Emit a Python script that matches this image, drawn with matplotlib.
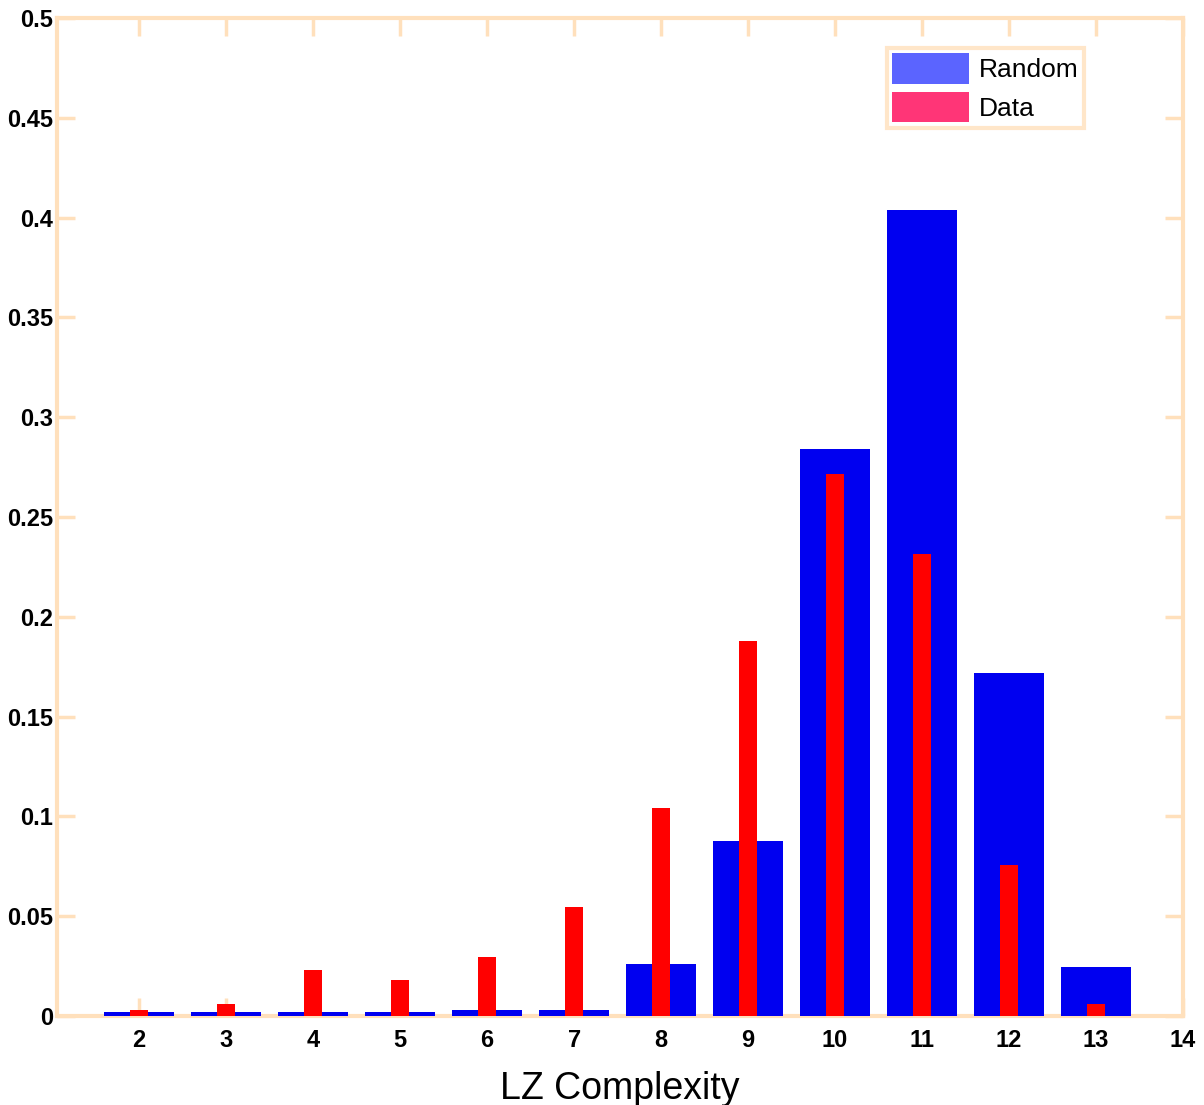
import matplotlib
matplotlib.use('Agg')
import matplotlib.pyplot as plt
from matplotlib.patches import Patch

# valeurs
lz = [2, 3, 4, 5, 6, 7, 8, 9, 10, 11, 12, 13]
random_vals = [0.002, 0.002, 0.002, 0.002, 0.003, 0.003, 0.026, 0.0875, 0.284, 0.404, 0.172, 0.0245]
data_vals = [0.003, 0.006, 0.023, 0.018, 0.0295, 0.0545, 0.104, 0.188, 0.2715, 0.2315, 0.0755, 0.0062]
yticks = [0, 0.05, 0.1, 0.15, 0.2, 0.25, 0.3, 0.35, 0.4, 0.45, 0.5]
ytick_labels = ['0', '0.05', '0.1', '0.15', '0.2', '0.25', '0.3', '0.35', '0.4', '0.45', '0.5']
xticks = [2, 3, 4, 5, 6, 7, 8, 9, 10, 11, 12, 13, 14]

plt.rcParams['font.family'] = ['Liberation Sans', 'DejaVu Sans']
frame_col = '#FFE0BC'

fig = plt.figure(figsize=(12.04, 11.05), dpi=100)
ax = fig.add_axes([0.0473, 0.0805, 0.9353, 0.9032])

ax.bar(lz, random_vals, width=0.8, color='#0000F0', zorder=2)
ax.bar(lz, data_vals, width=0.2, color='#FF0000', zorder=3)

ax.set_xlim(1.055, 14)
ax.set_ylim(0, 0.5)
ax.set_xticks(xticks)
ax.set_xticklabels([str(t) for t in xticks])
ax.set_yticks(yticks)
ax.set_yticklabels(ytick_labels)

for s in ax.spines.values():
    s.set_color(frame_col)
    s.set_linewidth(3)
    s.set_zorder(1)
ax.tick_params(direction='in', length=13, width=2.5, color=frame_col,
               top=True, right=True, labelsize=17)
ax.tick_params(axis='y', pad=3)
ax.tick_params(axis='x', pad=9)
for lab in ax.get_xticklabels() + ax.get_yticklabels():
    lab.set_fontweight('bold')

ax.set_xlabel('LZ Complexity', fontsize=27, labelpad=14)

handles = [Patch(facecolor='#5B64FF', edgecolor='none', label='Random'),
           Patch(facecolor='#FF3577', edgecolor='none', label='Data')]
leg = ax.legend(handles=handles, loc='upper right', bbox_to_anchor=(0.924, 0.983),
                fontsize=19, frameon=True, fancybox=False, handlelength=2.9,
                handleheight=1.4, labelspacing=0.3, borderpad=0.2, handletextpad=0.4)
leg.get_frame().set_edgecolor(frame_col)
leg.get_frame().set_linewidth(3)

fig.savefig('out.png', dpi=100)
